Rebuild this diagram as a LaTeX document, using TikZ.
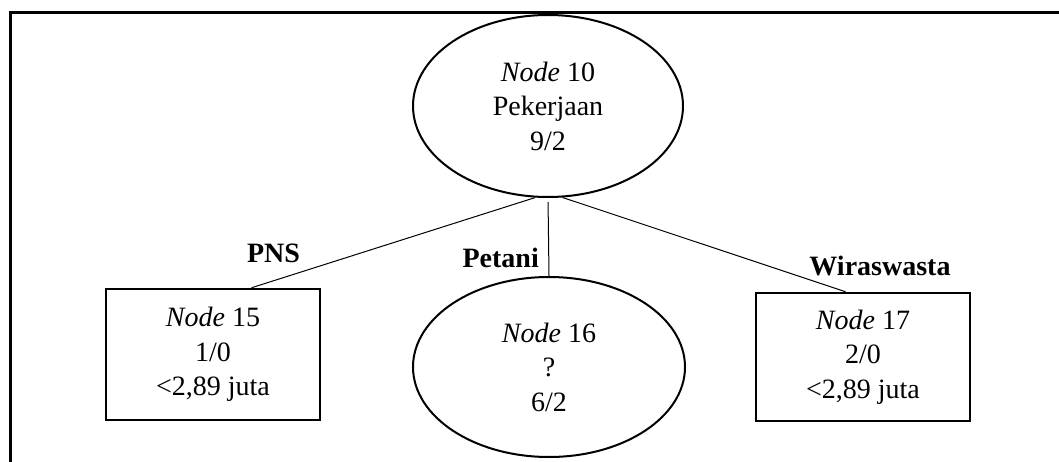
\documentclass[tikz,border=0pt]{standalone}
\usepackage{fontspec}
\setmainfont{Liberation Serif}
\usetikzlibrary{shapes.geometric}
\begin{document}
\begin{tikzpicture}[x=1pt,y=1pt,
  treetext/.style={font=\fontsize{28}{34.5}\selectfont, align=center, inner sep=0pt},
  splitnode/.style={treetext, ellipse, draw, line width=2pt},
  leafnode/.style={treetext, rectangle, draw, line width=2.5pt},
  branch/.style={line width=1pt},
  branchlabel/.style={font=\fontsize{28}{34}\selectfont\bfseries, inner sep=0pt, anchor=base}]
  \useasboundingbox (0,0) rectangle (1059,-462);
  % outer frame
  \draw[line width=2.5pt] (10.5,-462) -- (10.5,-12.5) -- (1059,-12.5);

  % tree nodes
  \node[splitnode, minimum width=270, minimum height=182] (n10) at (548,-106)
    {\textit{Node} 10\\Pekerjaan\\9/2};
  \node[leafnode, minimum width=214, minimum height=131] (n15) at (213,-354.5)
    {\textit{Node} 15\\1/0\\<2,89 juta};
  \node[splitnode, minimum width=272, minimum height=180] (n16) at (549,-367)
    {\textit{Node} 16\\?\\6/2};
  \node[leafnode, minimum width=214, minimum height=128] (n17) at (863,-357)
    {\textit{Node} 17\\2/0\\<2,89 juta};

  % branches
  \draw[branch] (n10.-98) -- (n15.60.4);
  \draw[branch, shorten <=4pt] (n10.south) -- (n16.north);
  \draw[branch] (n10.-81.3) -- (n17.105.7);

  % branch labels
  \node[branchlabel] (lpns) at (273.5,-262) {PNS};
  \node[branchlabel, anchor=base east] (lpetani) at (539,-267) {Petani};
  \node[branchlabel] (lwira) at (880,-275) {Wiraswasta};
\end{tikzpicture}
\end{document}
